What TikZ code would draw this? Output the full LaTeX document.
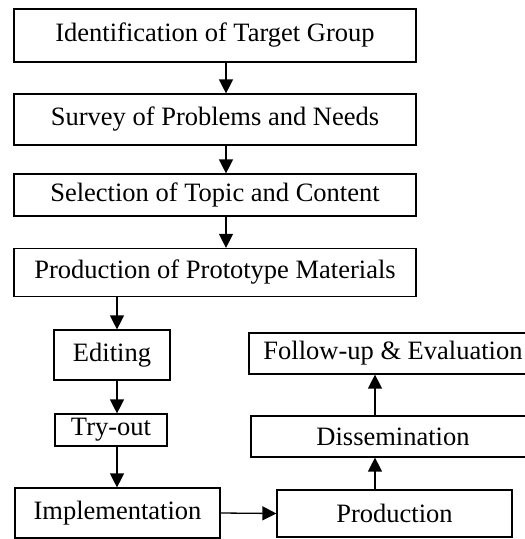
\documentclass[tikz,border=0pt]{standalone}
\usepackage{fontspec}
\setmainfont{Liberation Serif}
\usetikzlibrary{arrows.meta}
\begin{document}
\begin{tikzpicture}[x=1pt,y=-1pt,
  box/.style={draw, line width=1.2pt, rectangle, inner sep=0pt, font=\fontsize{26.5}{30}\selectfont},
  arr/.style={line width=1.3pt, -{Triangle[length=14pt,width=14pt]}}]
\clip (0,0) rectangle (525,539);
\node[box, minimum width=402pt, minimum height=53pt] (b1) at (215,35.5) {Identification of Target Group};
\node[box, minimum width=402pt, minimum height=51pt] (b2) at (215,119.5) {Survey of Problems and Needs};
\node[box, minimum width=402pt, minimum height=42pt] (b3) at (215,195) {Selection of Topic and Content};
\node[box, minimum width=402pt, minimum height=48pt] (b4) at (215,272.5) {Production of Prototype Materials};
\node[box, minimum width=116pt, minimum height=50pt] (ed) at (112,355) {Editing};
\node[box, minimum width=112pt, minimum height=32pt] (tr) at (111,430) {Try-out};
\node[box, minimum width=205pt, minimum height=50pt] (im) at (117.5,513) {Implementation};
\node[box, minimum width=235pt, minimum height=47pt] (pr) at (394.5,513.5) {Production};
\node[box, minimum width=284pt, minimum height=41pt] (di) at (393,436.5) {Dissemination};
\node[box, minimum width=288pt, minimum height=41pt] (fu) at (393,353.5) {Follow-up \& Evaluation};
\draw[arr] ([xshift=11pt]b1.south) -- ([xshift=11pt]b2.north);
\draw[arr] ([xshift=11pt]b2.south) -- ([xshift=11pt]b3.north);
\draw[arr] ([xshift=11pt]b3.south) -- ([xshift=11pt]b4.north);
\draw[arr] ([xshift=5pt]ed.north |- b4.south) -- ([xshift=5pt]ed.north);
\draw[arr] ([xshift=5pt]ed.south) -- ([xshift=5pt]ed.south |- tr.north);
\draw[arr] ([xshift=5pt]ed.south |- tr.south) -- ([xshift=5pt]ed.south |- im.north);
\draw[arr] (im.east) -- (pr.west);
\draw[arr] ([xshift=-19.5pt]pr.north) -- ([xshift=-19.5pt]pr.north |- di.south);
\draw[arr] ([xshift=-19.5pt]pr.north |- di.north) -- ([xshift=-19.5pt]pr.north |- fu.south);
\end{tikzpicture}
\end{document}
